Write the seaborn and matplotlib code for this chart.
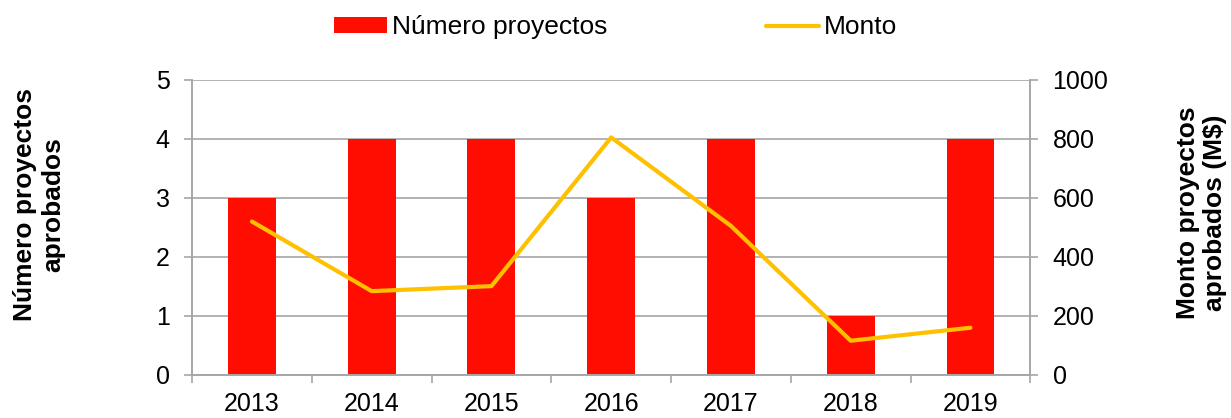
import numpy as np
import matplotlib
matplotlib.use("Agg")
import matplotlib.pyplot as plt
from matplotlib.patches import Patch
from matplotlib.lines import Line2D
import seaborn as sns

# data
years      = ["2013", "2014", "2015", "2016", "2017", "2018", "2019"]
proyectos  = [3, 4, 4, 3, 4, 1, 4]
monto      = [520, 284, 301, 805, 505, 116, 160]
left_ticks  = [0, 1, 2, 3, 4, 5]
right_ticks = [0, 200, 400, 600, 800, 1000]

BAR_COLOR  = "#FF0D00"
LINE_COLOR = "#FFC000"
GRID_COLOR = "#A6A6A6"

sns.set_style("white")
plt.rcParams["font.family"] = ["Liberation Sans", "DejaVu Sans"]
plt.rcParams.update({
    "text.color": "black",
    "xtick.labelcolor": "black",
    "ytick.labelcolor": "black",
})

fig = plt.figure(figsize=(12.31, 4.18), dpi=100)
ax = fig.add_axes([0.156, 0.103, 0.681, 0.706])
ax2 = ax.twinx()

sns.barplot(x=years, y=proyectos, ax=ax, color=BAR_COLOR, width=0.4,
            saturation=1, linewidth=0)
sns.lineplot(x=np.arange(len(years)), y=monto, ax=ax2, color=LINE_COLOR,
             linewidth=3)

# left axis
ax.set_ylim(0, 5)
ax.set_yticks(left_ticks)
ax.set_xlim(-0.5, len(years) - 0.5)
ax.set_axisbelow(True)
ax.yaxis.grid(True, color=GRID_COLOR, linewidth=1.2)
ax.set_xticks(np.arange(-0.5, len(years), 1), minor=True)
ax.tick_params(axis="x", which="major", length=0, pad=12, labelsize=18,
               labelcolor="black")
ax.tick_params(axis="x", which="minor", length=6, width=1.2,
               color=GRID_COLOR, direction="out", bottom=True)
ax.tick_params(axis="y", which="major", length=6, width=1.2,
               color=GRID_COLOR, direction="out", left=True, pad=10,
               labelsize=18, labelcolor="black")
ax.set_xlabel("")
ax.set_ylabel("")

# right axis
ax2.set_ylim(0, 1000)
ax2.set_yticks(right_ticks)
ax2.tick_params(axis="y", length=6, width=1.2, color=GRID_COLOR,
                direction="out", right=True, pad=10, labelsize=18,
                labelcolor="black")
ax2.set_ylabel("")
ax2.set_xlabel("")

for a in (ax, ax2):
    a.spines["top"].set_visible(False)
    for s in ("left", "right", "bottom"):
        a.spines[s].set_color(GRID_COLOR)
        a.spines[s].set_linewidth(1.2)

# axis titles
fig.text(0.032, 0.51, "Número proyectos\naprobados", rotation=90,
         ha="center", va="center", ma="center", fontsize=19,
         fontweight="bold", color="black")
fig.text(0.976, 0.49, "Monto proyectos\naprobados (M$)", rotation=90,
         ha="center", va="center", ma="center", fontsize=19,
         fontweight="bold", color="black")

# legend
handles = [Patch(facecolor=BAR_COLOR, edgecolor="none"),
           Line2D([0], [0], color=LINE_COLOR, linewidth=3)]
fig.legend(handles, ["Número proyectos", "Monto"], loc="center",
           bbox_to_anchor=(0.5, 0.935), ncol=2, frameon=False, fontsize=19,
           handlelength=2.0, handleheight=0.55, handletextpad=0.2,
           columnspacing=6.0, borderpad=0, labelcolor="black")

fig.savefig("out.png", dpi=100)
